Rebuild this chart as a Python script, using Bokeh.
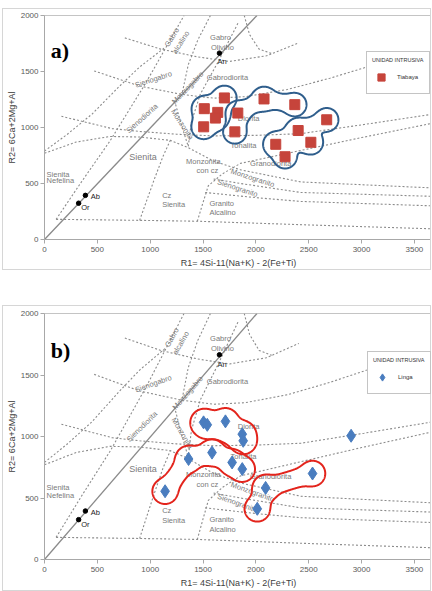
import numpy as np
import contourpy
from bokeh.plotting import figure
from bokeh.models import Label, Legend, LegendItem, Spacer, FixedTicker
from bokeh.layouts import column, row
from bokeh.core.properties import value
from bokeh.embed import file_html
from bokeh.resources import INLINE

# ---------------- axes ----------------
x_ticks = [0, 500, 1000, 1500, 2000, 2500, 3000, 3500]
y_ticks = [0, 500, 1000, 1500, 2000]
X_MAX = 3671
Y_MAX = 2000

# ---------------- data: panel a (Tiabaya) ----------------
tiabaya_r1 = [1702, 1512, 1639, 1617, 1506, 1829, 1801, 2077, 2368, 2670, 2400, 2520, 2188, 2276]
tiabaya_r2 = [1264, 1168, 1135, 1084, 1006, 1129, 961, 1255, 1204, 1069, 973, 868, 850, 739]
tiabaya_groups = [
    [(4, 1), (1, 0), (0, 2), (2, 3), (3, 4), (1, 3)],
    [(6, 5), (5, 7), (7, 8)],
    [(13, 12), (12, 10), (10, 9), (10, 11), (12, 11)],
]

# ---------------- data: panel b (Linga) ----------------
linga_r1 = [1505, 1540, 1712, 1871, 1880, 2901, 1363, 1585, 1775, 1871, 1141, 2092, 2013, 2536]
linga_r2 = [1115, 1095, 1123, 1019, 965, 1006, 817, 869, 789, 735, 555, 582, 412, 699]
linga_groups = [
    [(0, 1), (1, 2), (2, 3), (3, 4), (1, 4)],
    [(10, 6), (6, 7), (7, 8), (8, 9)],
    [(12, 11), (11, 13)],
]

# ---------------- reference minerals ----------------
mineral_names = ["Or", "Ab", "An"]
mineral_r1 = [323, 387, 1655]
mineral_r2 = [324, 394, 1664]

# ---------------- De la Roche template (R1, R2) ----------------
solid_r1 = [0, 2010]
solid_r2 = [0, 2000]

boundaries = [
    ([110, 900, 1450, 2500, 3681], [180, 171, 163, 130, 95]),
    ([110, 350, 620, 960, 1320], [180, 515, 880, 1400, 2000]),
    ([0, 300, 620, 900, 1190, 1360, 1600, 1855, 2425, 3681],
     [770, 870, 920, 915, 885, 820, 700, 622, 514, 460]),
    ([0, 210, 450, 700, 900, 1140], [790, 935, 1120, 1360, 1540, 1715]),
    ([160, 640, 900, 1250, 1600, 2000, 2425, 3025, 3681],
     [1100, 990, 965, 940, 925, 930, 945, 1027, 1120]),
    ([470, 900, 1300, 1600, 1900, 2300, 2700, 3050],
     [1505, 1370, 1295, 1262, 1275, 1340, 1440, 1540]),
    ([760, 1100, 1450, 1750, 2100, 2406], [1800, 1700, 1630, 1590, 1640, 1757]),
    ([1890, 1940, 2030, 2150], [2000, 1830, 1700, 1660]),
    ([1570, 1450, 1360, 1300], [2000, 1780, 1560, 1295]),
    ([900, 960, 1040, 1120, 1190], [171, 330, 540, 740, 885]),
    ([1446, 1500, 1550, 1683, 1855, 2400, 3000, 3681],
     [163, 330, 480, 586, 680, 790, 910, 1040]),
    ([1600, 1855, 2425, 3681], [540, 500, 420, 385]),
    ([1520, 1826, 2045, 2425, 3681], [420, 390, 370, 340, 300]),
    ([1230, 1290, 1360], [1240, 1040, 830]),
    ([1830, 1650, 1474, 1390, 1360], [1930, 1600, 1297, 1050, 830]),
]

# text, r1, r2, angle(deg on panel a), size, align
field_labels = [
    ("Gabro", 1205, 1805, 58, "7.5px", "center"),
    ("alcalino", 1290, 1760, 58, "7.5px", "center"),
    ("Gabro", 1665, 1800, 0, "7.5px", "center"),
    ("Olivino", 1683, 1712, 0, "7.5px", "center"),
    ("Sienogabro", 1030, 1430, 18, "7.5px", "center"),
    ("Gabrodiorita", 1731, 1450, 0, "7.5px", "center"),
    ("Monzogabro", 1355, 1355, 46, "7.5px", "center"),
    ("Sienodiorita", 922, 1081, 42, "7.5px", "center"),
    ("Monzonita", 1303, 1027, -57, "7.5px", "center"),
    ("Diorita", 1931, 1081, 0, "7.5px", "center"),
    ("Tonalita", 1883, 838, 0, "7.5px", "center"),
    ("Sienita", 932, 739, 0, "9px", "center"),
    ("Monzonita", 1503, 694, 0, "7.5px", "center"),
    ("con cz", 1541, 613, 0, "7.5px", "center"),
    ("Granodiorita", 2140, 676, 0, "7.5px", "center"),
    ("Monzogranito", 1969, 550, -18, "7.5px", "center"),
    ("Sienogranito", 1826, 459, -18, "7.5px", "center"),
    ("Sienita", 20, 583, 0, "7.5px", "left"),
    ("Nefelina", 20, 523, 0, "7.5px", "left"),
    ("Cz", 1113, 396, 0, "7.5px", "left"),
    ("Sienita", 1113, 315, 0, "7.5px", "left"),
    ("Granito", 1560, 324, 0, "7.5px", "left"),
    ("Alcalino", 1560, 243, 0, "7.5px", "left"),
]

FONT = "Liberation Sans"
LINE_C = "#8c8c8c"
LABEL_C = "#7a7a7a"
FRAME_W = 386
FRAME_H_A = 222


def seg_dist(X, Y, a, b):
    d = b - a
    L2 = float(d @ d)
    t = np.clip(((X - a[0]) * d[0] + (Y - a[1]) * d[1]) / L2, 0, 1)
    return np.hypot(X - (a[0] + t * d[0]), Y - (a[1] + t * d[1]))


def blob_outlines(r1, r2, links, sx, sy, rp, rs):
    P = np.column_stack([np.asarray(r1, float) * sx, np.asarray(r2, float) * sy])
    idx = sorted({i for e in links for i in e})
    pts = P[idx]
    x0, y0 = pts.min(0) - 30
    x1, y1 = pts.max(0) + 30
    gx = np.arange(x0, x1, 0.5)
    gy = np.arange(y0, y1, 0.5)
    X, Y = np.meshgrid(gx, gy)
    fields = [np.hypot(X - p[0], Y - p[1]) - rp for p in pts]
    fields += [seg_dist(X, Y, P[a], P[b]) - rs for a, b in links]
    F = np.stack(fields)
    k = 2.5
    G = -k * np.log(np.sum(np.exp(-F / k), axis=0) + 1e-300)
    gen = contourpy.contour_generator(gx, gy, G, line_type="Separate")
    out = []
    for ln in gen.lines(0.0):
        out.append((ln[:, 0] / sx, ln[:, 1] / sy))
    return out


def build(tag, r1, r2, groups, marker, mcolor, msize, bcolor, bwidth, rp, rs,
          name, frame_h, top, bottom, leg_loc, tag_y):
    sx = FRAME_W / X_MAX
    sy = frame_h / Y_MAX
    p = figure(frame_width=FRAME_W, frame_height=frame_h,
               x_range=(0, X_MAX), y_range=(0, Y_MAX),
               output_backend="svg", toolbar_location=None,
               min_border_left=37, min_border_right=0,
               min_border_top=top, min_border_bottom=bottom)
    p.styles = {"border": "1px solid #d6d6d6"}
    p.grid.visible = False
    p.outline_line_color = "#c4c4c4"
    p.background_fill_color = "white"
    p.border_fill_color = "white"

    for ax in (p.xaxis[0], p.yaxis[0]):
        ax.major_label_text_font = FONT
        ax.major_label_text_font_size = "8px"
        ax.major_label_text_color = "#5a5a5a"
        ax.axis_line_color = "#a8a8a8"
        ax.major_tick_line_color = "#a8a8a8"
        ax.major_tick_out = 4
        ax.major_tick_in = 0
        ax.minor_tick_line_color = None
        ax.axis_label_text_font = FONT
        ax.axis_label_text_font_size = "9px"
        ax.axis_label_text_font_style = "normal"
        ax.axis_label_text_color = "#404040"
    p.xaxis.major_label_standoff = 3
    p.xaxis.axis_label_standoff = 3
    p.yaxis.major_label_standoff = 2
    p.yaxis.axis_label_standoff = 1
    p.xaxis.ticker = FixedTicker(ticks=x_ticks)
    p.yaxis.ticker = FixedTicker(ticks=y_ticks)
    p.xaxis.axis_label = "R1= 4Si-11(Na+K) - 2(Fe+Ti)"
    p.yaxis.axis_label = "R2= 6Ca+2Mg+Al"

    for bx, by in boundaries:
        p.line(bx, by, line_color=LINE_C, line_width=1.1, line_dash="2 2")
    p.line(solid_r1, solid_r2, line_color="#8a8a8a", line_width=1.3)

    ratio = sy / (FRAME_H_A / Y_MAX)
    for txt, x, y, ang, fs, al in field_labels:
        a = np.arctan(np.tan(np.radians(ang)) * ratio)
        p.text(x=[x], y=[y], text=[txt], angle=float(a),
               text_font=value(FONT), text_font_size=value(fs),
               text_color=LABEL_C, text_align=al, text_baseline="middle")

    p.scatter(mineral_r1, mineral_r2, size=4.5, color="black")
    p.text(x=[mineral_r1[0] + 25], y=[mineral_r2[0] - 40], text=[mineral_names[0]],
           text_font=value(FONT), text_font_size=value("7.5px"), text_color="#222222",
           text_align="left", text_baseline="middle")
    p.text(x=[mineral_r1[1] + 50], y=[mineral_r2[1] - 10], text=[mineral_names[1]],
           text_font=value(FONT), text_font_size=value("7.5px"), text_color="#222222",
           text_align="left", text_baseline="middle")
    p.text(x=[mineral_r1[2] + 25], y=[mineral_r2[2] - 75], text=[mineral_names[2]],
           text_font=value(FONT), text_font_size=value("7.5px"), text_color="#222222",
           text_align="center", text_baseline="middle")

    for links in groups:
        for bx, by in blob_outlines(r1, r2, links, sx, sy, rp, rs):
            p.line(bx, by, line_color=bcolor, line_width=bwidth)

    r = p.scatter(r1, r2, marker=marker, size=msize, fill_color=mcolor,
                  line_color=mcolor)

    leg = Legend(items=[LegendItem(label=name, renderers=[r])],
                 location=leg_loc, title="UNIDAD INTRUSIVA",
                 title_text_font=FONT, title_text_font_size="5.5px",
                 title_text_font_style="normal", title_text_color="#333333",
                 title_standoff=3,
                 label_text_font=FONT, label_text_font_size="6px",
                 label_text_color="#333333",
                 glyph_width=18, glyph_height=22, label_height=22,
                 label_standoff=7, padding=5, margin=0, spacing=0,
                 border_line_color="#8a8a8a", border_line_width=1,
                 background_fill_color="white", background_fill_alpha=1)
    p.add_layout(leg)

    p.add_layout(Label(x=60, y=tag_y, text=tag, text_font="Liberation Serif",
                       text_font_style="bold", text_font_size="22px",
                       text_color="black", text_baseline="alphabetic"))
    return p


pa = build("a)", tiabaya_r1, tiabaya_r2, tiabaya_groups, "square", "#C6443B", 10,
           "#2F5E8C", 2, 11, 8, "Tiabaya", FRAME_H_A, 6, 32, (322, 145), 1685)
pb = build("b)", linga_r1, linga_r2, linga_groups, "diamond", "#4A7DBF", 13,
           "#E3241C", 2, 12, 9, "Linga", 244, 7, 33, (323, 165), 1697)

layout = row(Spacer(width=2),
             column(Spacer(height=8), pa, Spacer(height=35), pb))
open("out.html", "w").write(file_html(layout, INLINE))
